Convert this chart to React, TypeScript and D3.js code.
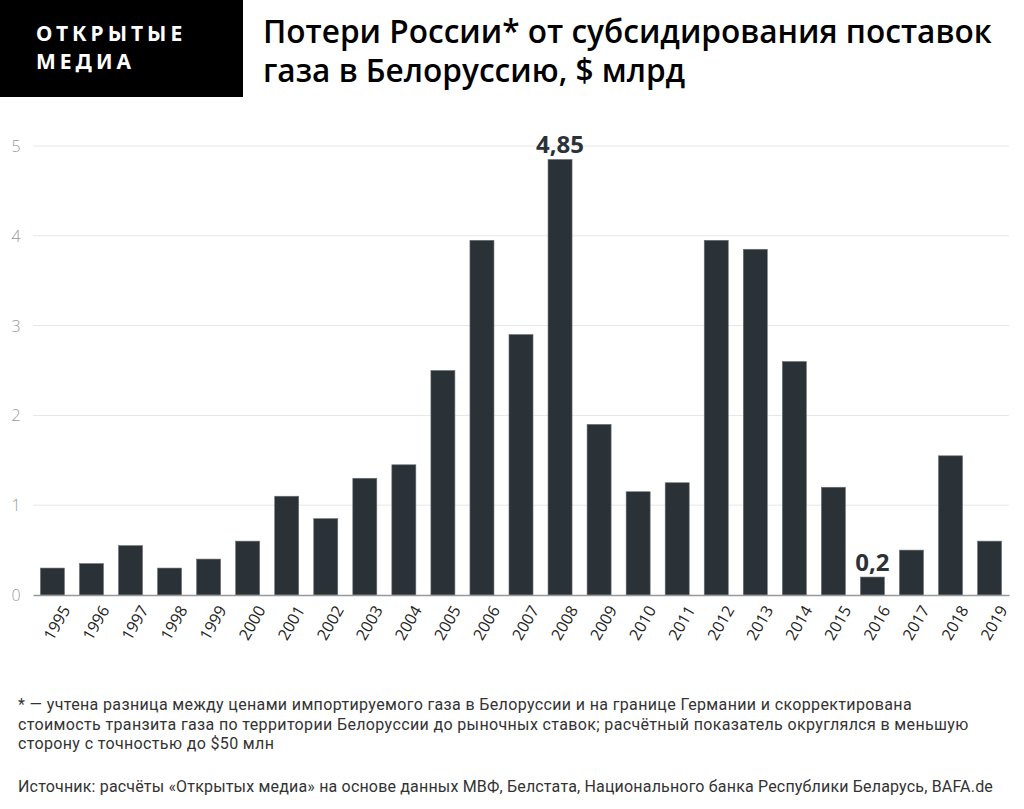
import React, { useRef, useEffect } from 'react';
import { select, scaleBand, scaleLinear, axisBottom } from 'd3';

const years = ['1995', '1996', '1997', '1998', '1999', '2000', '2001', '2002', '2003', '2004', '2005', '2006',
    '2007', '2008', '2009', '2010', '2011', '2012', '2013', '2014', '2015', '2016', '2017', '2018', '2019'];
const losses = [0.3, 0.35, 0.55, 0.3, 0.4, 0.6, 1.1, 0.85, 1.3, 1.45, 2.5, 3.95,
    2.9, 4.85, 1.9, 1.15, 1.25, 3.95, 3.85, 2.6, 1.2, 0.2, 0.5, 1.55, 0.6];
const yTicks = [0, 1, 2, 3, 4, 5];
const labelled = { '2008': '4,85', '2016': '0,2' };

const titleLines = ['Потери России* от субсидирования поставок', 'газа в Белоруссию, $ млрд'];
const noteLines = [
    '* — учтена разница между ценами импортируемого газа в Белоруссии и на границе Германии и скорректирована',
    'стоимость транзита газа по территории Белоруссии до рыночных ставок; расчётный показатель округлялся в меньшую',
    'сторону с точностью до $50 млн',
];
const source = 'Источник: расчёты «Открытых медиа» на основе данных МВФ, Белстата, Национального банка Республики Беларусь, BAFA.de';

const W = 1024;
const H = 809;
const barColor = '#2b3237';
const noteFont = '16px Roboto, sans-serif';

// letter-spacing that makes a text line run to the given width
function fitSpacing(node, str, width) {
    const natural = node ? node.getComputedTextLength() : 0;
    return natural > 0 ? Math.max(0, (width - natural) / str.length) : 0;
}

function App() {
    const ref = useRef(null);

    useEffect(() => {
        const svg = select(ref.current);
        svg.selectAll('*').remove();

        const x = scaleBand().domain(years).range([33, 1009]).paddingInner(0.385).paddingOuter(0.19);
        const y = scaleLinear().domain([0, 5]).range([595, 146]);

        // header
        svg.append('rect').attr('x', 0).attr('y', 0).attr('width', 243).attr('height', 97).attr('fill', '#000');
        svg.selectAll('.logo')
            .data(['ОТКРЫТЫЕ', 'МЕДИА'])
            .join('text')
            .attr('class', 'logo')
            .attr('x', 36)
            .attr('y', (d, i) => 41 + i * 28)
            .attr('fill', '#fff')
            .style('font', 'bold 21px "Noto Sans", sans-serif')
            .style('letter-spacing', '4px')
            .text(d => d);

        svg.selectAll('.title')
            .data(titleLines)
            .join('text')
            .attr('class', 'title')
            .attr('x', 263)
            .attr('y', (d, i) => 43 + i * 39)
            .attr('fill', '#000')
            .style('font', '600 31.6px "Open Sans", sans-serif')
            .text(d => d);

        // grid
        svg.selectAll('.grid')
            .data(yTicks.filter(t => t > 0))
            .join('line')
            .attr('class', 'grid')
            .attr('x1', 33).attr('x2', 1009)
            .attr('y1', d => y(d)).attr('y2', d => y(d))
            .attr('stroke', '#e6e6e6');

        svg.selectAll('.ytick')
            .data(yTicks)
            .join('text')
            .attr('class', 'ytick')
            .attr('x', 16)
            .attr('y', d => y(d) + 6)
            .attr('text-anchor', 'middle')
            .attr('fill', '#999')
            .style('font', '300 16px "Open Sans", sans-serif')
            .text(d => d);

        // bars
        svg.selectAll('.bar')
            .data(years)
            .join('rect')
            .attr('class', 'bar')
            .attr('x', d => x(d))
            .attr('width', x.bandwidth())
            .attr('y', (d, i) => y(losses[i]))
            .attr('height', (d, i) => y(0) - y(losses[i]))
            .attr('fill', barColor)
            .attr('stroke', '#6b7074')
            .attr('stroke-width', 0.6);

        // x axis
        const gx = svg.append('g')
            .attr('transform', `translate(0,${y(0)})`)
            .call(axisBottom(x).tickSize(0).tickPadding(10));
        gx.select('.domain').attr('stroke', '#999').attr('stroke-width', 1.5);
        gx.selectAll('text')
            .attr('fill', '#222')
            .style('font', '16px "Open Sans", sans-serif')
            .attr('text-anchor', 'end')
            .attr('dy', '0.35em')
            .attr('transform', 'translate(5,7) rotate(-60)');

        // value labels
        svg.selectAll('.vlabel')
            .data(years.filter(d => labelled[d]))
            .join('text')
            .attr('class', 'vlabel')
            .attr('x', d => x(d) + x.bandwidth() / 2)
            .attr('y', d => y(losses[years.indexOf(d)]) - 6)
            .attr('text-anchor', 'middle')
            .attr('fill', barColor)
            .style('font', 'bold 24px "Open Sans", sans-serif')
            .text(d => labelled[d]);

        // notes
        const notes = svg.selectAll('.note')
            .data(noteLines)
            .join('text')
            .attr('class', 'note')
            .attr('x', 18)
            .attr('y', (d, i) => 710 + i * 19.5)
            .attr('fill', '#333')
            .style('font', noteFont)
            .text(d => d);

        const src = svg.append('text')
            .attr('x', 18)
            .attr('y', 792)
            .attr('fill', '#333')
            .style('font', noteFont)
            .text(source);

        notes.style('letter-spacing', `${fitSpacing(notes.node(), noteLines[0], 894)}px`);
        src.style('letter-spacing', `${fitSpacing(src.node(), source, 975)}px`);
    }, []);

    return (
        <svg ref={ref} width={W} height={H} style={{ position: 'absolute', left: 0, top: 0, background: '#fff' }}></svg>
    );
}

export default App;
